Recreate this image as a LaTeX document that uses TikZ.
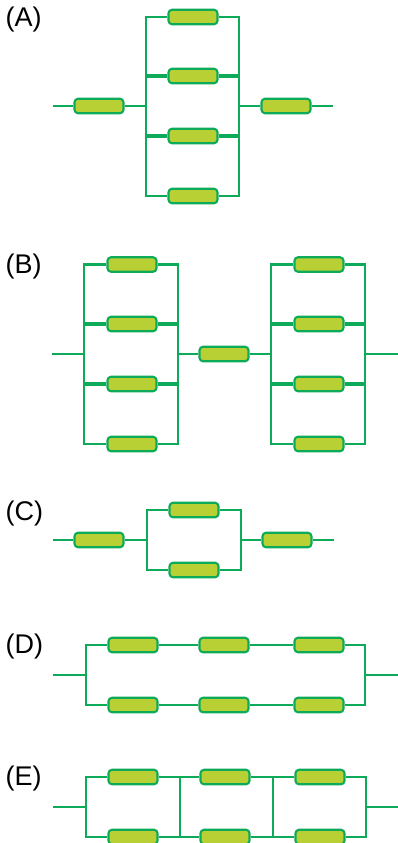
\documentclass[tikz,border=0pt]{standalone}
\usepackage{fontspec}
\setmainfont{Liberation Sans}
\definecolor{wiregreen}{HTML}{0DAA5A}
\definecolor{resfill}{HTML}{B9D034}
\tikzset{
  res/.style={draw=wiregreen, fill=resfill, rounded corners=3.5pt, line width=2.1pt, minimum width=49pt, minimum height=14.5pt, inner sep=0pt},
  wire/.style={draw=wiregreen, line width=2.7pt},
  rung/.style={draw=wiregreen, line width=3.1pt},
  tag/.style={font=\fontsize{27}{30}\selectfont, inner sep=0pt, anchor=west}
}
\begin{document}
\begin{tikzpicture}[x=1pt, y=-1pt]
    \useasboundingbox (0,0) rectangle (398,843);

    % (A) four in parallel, one in series on each side
    \node[tag] (tagA) at (5.5,19.5) {(A)};
    \node[res] (a0) at (99,106) {};
    \node[res] (a1) at (193,17) {};
    \node[res] (a2) at (193,76) {};
    \node[res] (a3) at (193,136) {};
    \node[res] (a4) at (193,196) {};
    \node[res] (a5) at (286,106) {};
    \coordinate (aIn) at (53,106);
    \coordinate (aOut) at (333,106);
    \coordinate (aL) at (146,106);
    \coordinate (aR) at (239,106);
    \coordinate (aL1) at (146,17);
    \coordinate (aL2) at (146,76);
    \coordinate (aL3) at (146,136);
    \coordinate (aL4) at (146,196);
    \coordinate (aR1) at (239,17);
    \coordinate (aR2) at (239,76);
    \coordinate (aR3) at (239,136);
    \coordinate (aR4) at (239,196);
    \draw[wire] (aIn) -- (a0) -- (aL);
    \draw[wire] (a5) -- (aOut);
    \draw[wire] (aR) -- (a5);
    \draw[wire] (a1) -- (aL1) -- (aL4) -- (a4) -- (aR4) -- (aR1) -- (a1);
    \draw[rung] (aL2) -- (a2) -- (aR2);
    \draw[rung] (aL3) -- (a3) -- (aR3);

    % (B) two parallel groups with one in series between
    \node[tag] (tagB) at (5.5,266.5) {(B)};
    \node[res] (b1) at (132,264.5) {};
    \node[res] (b2) at (132,324) {};
    \node[res] (b3) at (132,384) {};
    \node[res] (b4) at (132,444) {};
    \node[res] (b5) at (224,354) {};
    \node[res] (b6) at (319,264.5) {};
    \node[res] (b7) at (319,324) {};
    \node[res] (b8) at (319,384) {};
    \node[res] (b9) at (319,444) {};
    \coordinate (bIn) at (52,354);
    \coordinate (bOut) at (398,354);
    \coordinate (bA) at (84,354);
    \coordinate (bB) at (178,354);
    \coordinate (bC) at (271,354);
    \coordinate (bD) at (365,354);
    \coordinate (bA1) at (84,264.5);
    \coordinate (bA2) at (84,324);
    \coordinate (bA3) at (84,384);
    \coordinate (bA4) at (84,444);
    \coordinate (bB1) at (178,264.5);
    \coordinate (bB2) at (178,324);
    \coordinate (bB3) at (178,384);
    \coordinate (bB4) at (178,444);
    \coordinate (bC1) at (271,264.5);
    \coordinate (bC2) at (271,324);
    \coordinate (bC3) at (271,384);
    \coordinate (bC4) at (271,444);
    \coordinate (bD1) at (365,264.5);
    \coordinate (bD2) at (365,324);
    \coordinate (bD3) at (365,384);
    \coordinate (bD4) at (365,444);
    \draw[wire] (bIn) -- (bA);
    \draw[wire] (bB) -- (b5) -- (bC);
    \draw[wire] (bD) -- (bOut);
    \draw[wire] (b1) -- (bA1) -- (bA4) -- (b4) -- (bB4) -- (bB1) -- (b1);
    \draw[wire] (b6) -- (bC1) -- (bC4) -- (b9) -- (bD4) -- (bD1) -- (b6);
    \draw[rung] (bA2) -- (b2) -- (bB2);
    \draw[rung] (bA3) -- (b3) -- (bB3);
    \draw[rung] (bC2) -- (b7) -- (bD2);
    \draw[rung] (bC3) -- (b8) -- (bD3);

    % (C) two in parallel
    \node[tag] (tagC) at (5.5,513.5) {(C)};
    \node[res] (c0) at (99,540) {};
    \node[res] (c1) at (194,510) {};
    \node[res] (c2) at (194,570) {};
    \node[res] (c3) at (287,540) {};
    \coordinate (cIn) at (53,540);
    \coordinate (cOut) at (334,540);
    \coordinate (cL) at (147,540);
    \coordinate (cR) at (241,540);
    \coordinate (cL1) at (147,510);
    \coordinate (cL2) at (147,570);
    \coordinate (cR1) at (241,510);
    \coordinate (cR2) at (241,570);
    \draw[wire] (cIn) -- (c0) -- (cL);
    \draw[wire] (cR) -- (c3) -- (cOut);
    \draw[wire] (c1) -- (cL1) -- (cL2) -- (c2) -- (cR2) -- (cR1) -- (c1);

    % (D) two rows of three
    \node[tag] (tagD) at (5.5,646.5) {(D)};
    \node[res] (d1) at (133,645) {};
    \node[res] (d2) at (224,645) {};
    \node[res] (d3) at (319,645) {};
    \node[res] (d4) at (133,705) {};
    \node[res] (d5) at (224,705) {};
    \node[res] (d6) at (319,705) {};
    \coordinate (dIn) at (53,675);
    \coordinate (dOut) at (398,675);
    \coordinate (dL) at (86,675);
    \coordinate (dR) at (365,675);
    \coordinate (dL1) at (86,645);
    \coordinate (dL2) at (86,705);
    \coordinate (dR1) at (365,645);
    \coordinate (dR2) at (365,705);
    \draw[wire] (dIn) -- (dL);
    \draw[wire] (dR) -- (dOut);
    \draw[wire] (d1) -- (dL1) -- (dL2) -- (d4) -- (d5) -- (d6) -- (dR2) -- (dR1) -- (d3) -- (d2) -- (d1);

    % (E) same rows with cross links
    \node[tag] (tagE) at (5.5,778.5) {(E)};
    \node[res] (e1) at (133,777) {};
    \node[res] (e2) at (225,777) {};
    \node[res] (e3) at (320,777) {};
    \node[res] (e4) at (133,837) {};
    \node[res] (e5) at (225,837) {};
    \node[res] (e6) at (320,837) {};
    \coordinate (eIn) at (53,807);
    \coordinate (eOut) at (398,807);
    \coordinate (eL) at (86,807);
    \coordinate (eR) at (366,807);
    \coordinate (eL1) at (86,777);
    \coordinate (eL2) at (86,837);
    \coordinate (eR1) at (366,777);
    \coordinate (eR2) at (366,837);
    \coordinate (eM1) at (180,777);
    \coordinate (eM2) at (180,837);
    \coordinate (eN1) at (273,777);
    \coordinate (eN2) at (273,837);
    \draw[wire] (eIn) -- (eL);
    \draw[wire] (eR) -- (eOut);
    \draw[wire] (e1) -- (eL1) -- (eL2) -- (e4) -- (e5) -- (e6) -- (eR2) -- (eR1) -- (e3) -- (e2) -- (e1);
    \draw[wire] (eM1) -- (eM2);
    \draw[wire] (eN1) -- (eN2);
\end{tikzpicture}
\end{document}
